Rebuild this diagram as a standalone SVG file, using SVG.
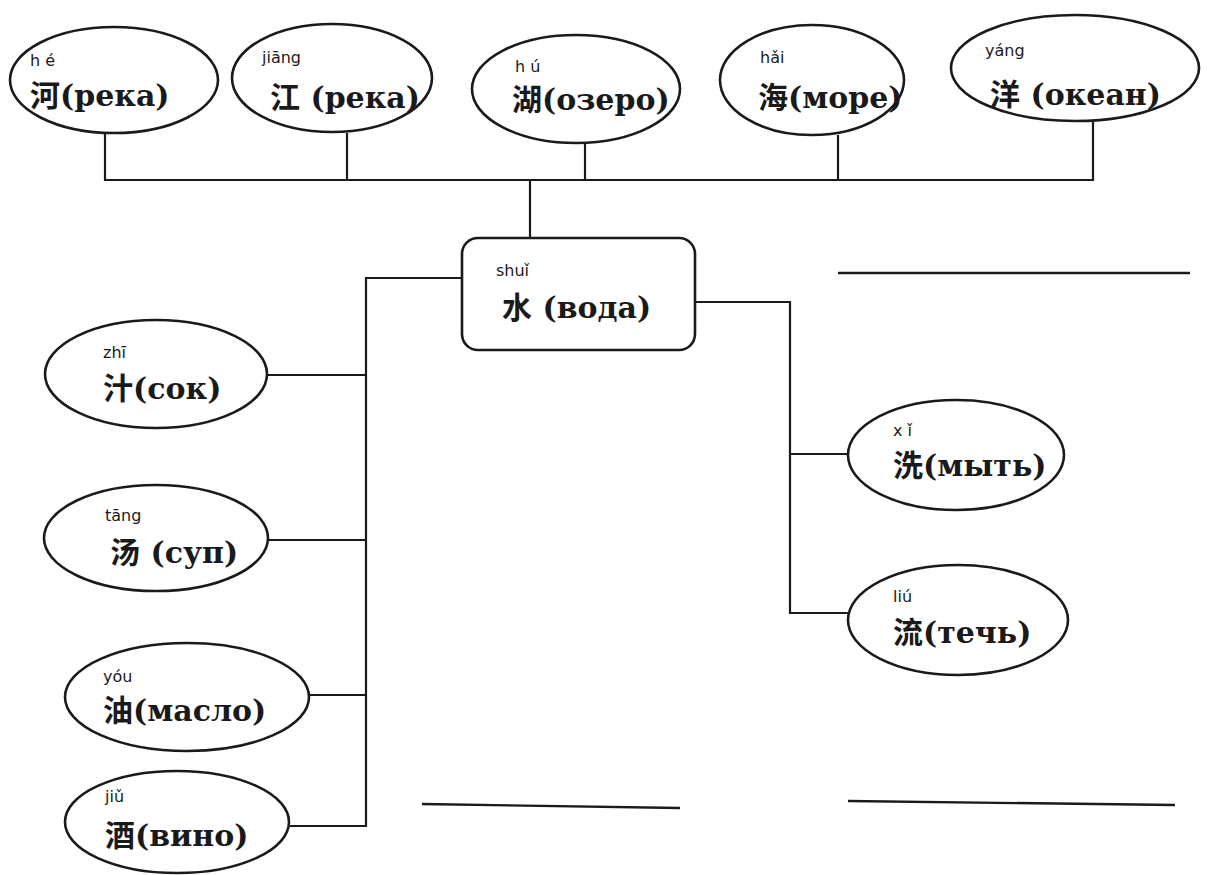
<svg xmlns="http://www.w3.org/2000/svg" width="1207" height="875" viewBox="0 0 1207 875">
<style>
.n{fill:none;stroke:#1a1a1a;stroke-width:2.6}
.c{fill:none;stroke:#1a1a1a;stroke-width:2.2}
.py{font-family:"DejaVu Sans","Liberation Sans",sans-serif;font-size:16px;fill:#1a1a1a}
.lb{font-family:"DejaVu Serif","Noto Sans CJK SC",serif;font-weight:bold;font-size:30px;fill:#1a1a1a}
.bl{fill:none;stroke:#1a1a1a;stroke-width:2.4}
</style>
<rect width="1207" height="875" fill="#fff"/>
<g id="connectors">
<polyline class="c" points="105,133 105,180 1093,180 1093,122"/>
<line class="c" x1="347" y1="133" x2="347" y2="180"/>
<line class="c" x1="585" y1="143" x2="585" y2="180"/>
<line class="c" x1="838" y1="135" x2="838" y2="180"/>
<line class="c" x1="530" y1="180" x2="530" y2="238"/>
<polyline class="c" points="462,278 366,278 366,826 290,826"/>
<line class="c" x1="268" y1="375" x2="366" y2="375"/>
<line class="c" x1="268" y1="540" x2="366" y2="540"/>
<line class="c" x1="310" y1="695" x2="366" y2="695"/>
<polyline class="c" points="695,302 790,302 790,613 848,613"/>
<line class="c" x1="790" y1="454" x2="848" y2="454"/>
</g>
<g id="he"><ellipse class="n" cx="114" cy="80" rx="104" ry="53"/><text class="py" x="30" y="66">h é</text><text class="lb" x="30" y="106">河(река)</text></g>
<g id="jiang"><ellipse class="n" cx="332" cy="78" rx="100" ry="54"/><text class="py" x="262" y="63">jiāng</text><text class="lb" x="270" y="108">江 (река)</text></g>
<g id="hu"><ellipse class="n" cx="576" cy="89" rx="104" ry="54"/><text class="py" x="515" y="72">h ú</text><text class="lb" x="512" y="110">湖(озеро)</text></g>
<g id="hai"><ellipse class="n" cx="812" cy="80" rx="92" ry="55"/><text class="py" x="760" y="63">hǎi</text><text class="lb" x="758" y="108">海(море)</text></g>
<g id="yang"><ellipse class="n" cx="1075" cy="68" rx="124" ry="53"/><text class="py" x="985" y="56">yáng</text><text class="lb" x="990" y="105">洋 (океан)</text></g>
<g id="shui"><rect class="n" x="462" y="238" width="233" height="112" rx="16"/><text class="py" x="496" y="276">shuǐ</text><text class="lb" x="502" y="318">水 (вода)</text></g>
<g id="zhi"><ellipse class="n" cx="156" cy="374" rx="111" ry="54"/><text class="py" x="103" y="358">zhī</text><text class="lb" x="103" y="399">汁(сок)</text></g>
<g id="tang"><ellipse class="n" cx="156" cy="538" rx="112" ry="53"/><text class="py" x="105" y="521">tāng</text><text class="lb" x="110" y="563">汤 (суп)</text></g>
<g id="you"><ellipse class="n" cx="187" cy="697" rx="122" ry="54"/><text class="py" x="103" y="682">yóu</text><text class="lb" x="103" y="721">油(масло)</text></g>
<g id="jiu"><ellipse class="n" cx="177" cy="822" rx="112" ry="51"/><text class="py" x="105" y="802">jiǔ</text><text class="lb" x="105" y="846">酒(вино)</text></g>
<g id="xi"><ellipse class="n" cx="956" cy="455" rx="108" ry="55"/><text class="py" x="893" y="436">x ǐ</text><text class="lb" x="893" y="476">洗(мыть)</text></g>
<g id="liu"><ellipse class="n" cx="958" cy="620" rx="110" ry="55"/><text class="py" x="893" y="602">liú</text><text class="lb" x="893" y="643">流(течь)</text></g>
<g id="blanks">
<line class="bl" x1="838" y1="273" x2="1190" y2="273"/>
<line class="bl" x1="422" y1="804" x2="680" y2="808"/>
<line class="bl" x1="848" y1="801" x2="1175" y2="805"/>
</g>
</svg>
